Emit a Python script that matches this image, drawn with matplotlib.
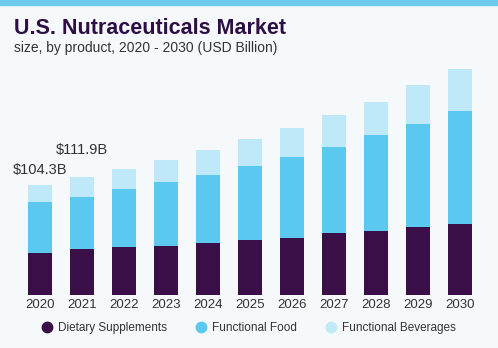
import numpy as np
import matplotlib.pyplot as plt
from matplotlib.lines import Line2D

years = ['2020', '2021', '2022', '2023', '2024', '2025', '2026', '2027', '2028', '2029', '2030']
dietary = [40.1, 43.4, 45.6, 46.5, 49.1, 52.2, 54.4, 58.6, 60.8, 64.3, 67.7]
food = [47.8, 49.7, 54.8, 60.5, 64.9, 70.3, 76.6, 82.3, 91.2, 98.4, 107.3]
beverages = [16.4, 18.8, 19.3, 21.2, 23.4, 25.3, 27.9, 29.8, 31.3, 36.4, 39.3]
labels = {0: '$104.3B', 1: '$111.9B'}

c_dark = '#3a0f48'
c_mid = '#5bc8f0'
c_light = '#bfe8f8'
bg = '#f6f9fc'

plt.rcParams['font.family'] = ['Liberation Sans', 'DejaVu Sans']

fig = plt.figure(figsize=(4.98, 3.48), dpi=100, facecolor=bg)
# top stripe
fig.patches.append(plt.Rectangle((0, 1 - 5 / 348), 1, 5 / 348, transform=fig.transFigure,
                                 color='#6ccbec', zorder=0))

ax = fig.add_axes([19 / 498, 53 / 348, 462 / 498, 235 / 348])
ax.set_facecolor(bg)
x = np.arange(len(years))
d = np.array(dietary)
f = np.array(food)
b = np.array(beverages)
w = 0.57
ax.bar(x, d, w, color=c_dark)
ax.bar(x, f, w, bottom=d, color=c_mid)
ax.bar(x, b, w, bottom=d + f, color=c_light)

tot = d + f + b
ax.annotate(labels[0], (0, tot[0]), xytext=(0, 15), textcoords='offset pixels',
            ha='center', va='center', fontsize=10.5, color='#333333')
ax.annotate(labels[1], (1, tot[1]), xytext=(0, 27), textcoords='offset pixels',
            ha='center', va='center', fontsize=10.5, color='#333333')

ax.set_xlim(-0.5, 10.5)
ax.set_ylim(0, 235 / 1.053)
ax.set_xticks(x)
ax.set_xticklabels(years, fontsize=9.5, color='#333333')
ax.tick_params(axis='x', length=0, pad=3)
ax.set_yticks([])
for s in ax.spines.values():
    s.set_visible(False)

fig.text(14 / 498, 1 - 28 / 348, 'U.S. Nutraceuticals Market', fontsize=15.5, fontweight='bold',
         color='#2d0f45', va='center')
fig.text(14 / 498, 1 - 48 / 348, 'size, by product, 2020 - 2030 (USD Billion)', fontsize=10,
         color='#333333', va='center')

handles = [Line2D([], [], marker='o', ls='', markersize=7.5, color=c) for c in (c_dark, c_mid, c_light)]
fig.legend(handles, ['Dietary Supplements', 'Functional Food', 'Functional Beverages'],
           loc='center', bbox_to_anchor=(0.5, 1 - 328 / 348), ncol=3, frameon=False,
           fontsize=8.5, handlelength=0.8, handletextpad=0.5, columnspacing=2.5,
           labelcolor='#333333')

fig.savefig('out.png', dpi=100, facecolor=bg)
